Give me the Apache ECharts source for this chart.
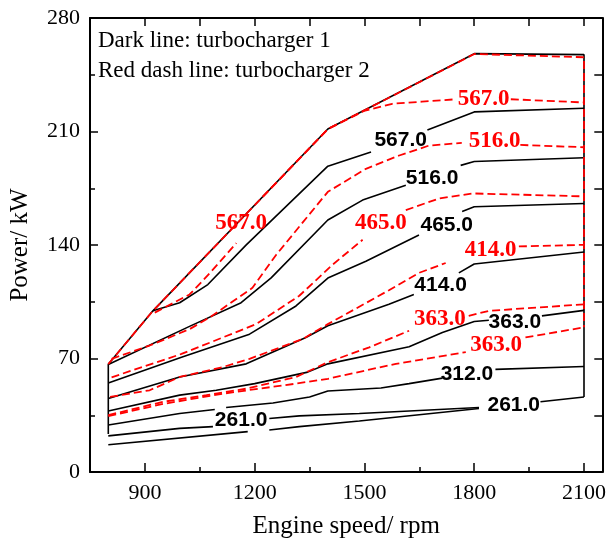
<!DOCTYPE html>
<html>
<head>
<meta charset="utf-8">
<script src="https://cdn.jsdelivr.net/npm/echarts@6/dist/echarts.min.js"></script>
<style>
  html, body { margin: 0; padding: 0; background: #fff; }
  #chart { width: 609px; height: 544px; }
</style>
</head>
<body>
<div id="chart"></div>
<script>
// Engine speed (rpm) / power (kW) contour map of two turbochargers.
// Each contour is a list of [rpm, kW] points; null marks a break where a label sits.

// Operating envelope
const envelope1 = [[800, 23.5], [800, 66.5], [922, 99.4], [1400, 211.5], [1800, 258], [2100, 257.4], [2100, 46.3]];
const envelope2 = [[800, 66.5], [922, 99.4], [1400, 211.5], [1800, 257.8], [2100, 255.8], [2100, 89.2]];

// Turbocharger 1 (solid black)
const t1_567 = [[922, 99.4], [995, 104.4], [1072, 115.6], [1177, 140.1], [1400, 188.6], [1518, 197.3], null, [1672, 210.9], [1800, 222.1], [2100, 224.3]];
const t1_516 = [[800, 66.3], [1022, 89.8], [1163, 104.4], [1245, 119.7], [1400, 155.4], [1495, 167.7], [1613, 176.8], null, [1763, 189.1], [1800, 191.5], [2100, 193.8]];
const t1_465 = [[800, 54.9], [1000, 70.8], [1186, 85], [1313, 102.4], [1400, 119.6], [1504, 130], [1649, 146.2], null, [1767, 160.6], [1800, 163.6], [2100, 165.6]];
const t1_414 = [[800, 45.3], [995, 58.6], [1177, 66.7], [1340, 83], [1400, 90.2], [1567, 103.4], [1635, 109.5], null, [1758, 122.8], [1800, 128.3], [2100, 135.7]];
const t1_363 = [[800, 37.6], [995, 47.4], [1095, 50.4], [1200, 54.5], [1345, 61.6], [1400, 66.7], [1622, 77.3], [1713, 86.1], [1800, 92.8], [1840, 93.6], null, [1985, 96.3], [2100, 99.7]];
const t1_312 = [[800, 29], [995, 36.1], [1091, 38.5], null, [1122, 39.8], [1250, 42.6], [1350, 46.3], [1400, 50], [1545, 51.8], [1622, 54.5], [1713, 57.9], null, [1858, 63.3], [2100, 65.1]];
const t1_261 = [[800, 22.3], [995, 26.9], [1086, 28], null, [1240, 33], [1322, 34.6], [1486, 36.1], [1813, 39.8], null, [1981, 43.3], [2100, 46.3]];
const t1_261b = [[800, 16.8], [1181, 24.9], null, [1240, 25.9], [1322, 28], [1486, 31.5], [1813, 39.2]];

// Turbocharger 2 (red dashed)
const t2_567 = [[927, 98.3], [1022, 109.5], [1058, 117.9], [1104, 129.4], [1150, 141.2], null, [1222, 169.7], [1400, 211.5], [1499, 222.7], [1576, 227.1], [1657, 228.4], [1750, 229.9], null, [1900, 229.9], [2100, 227.9]];
const t2_516 = [[809, 69.8], [913, 78], [1022, 88.1], [1077, 95.3], [1194, 113.6], [1259, 134], [1400, 172.8], [1504, 187], [1595, 195.2], [1676, 201.3], [1766, 203], null, [1926, 201.7], [2100, 200.3]];
const t2_465 = [[809, 58.4], [1000, 72.8], [1204, 91.2], [1322, 108.7], [1413, 127.9], [1495, 143.2], null, [1613, 161.5], [1704, 168.7], [1795, 171.8], [2100, 170]];
const t2_414 = [[805, 46.3], [913, 50.4], [995, 58.6], [1113, 64.7], [1186, 69.8], [1331, 82], [1400, 91.2], [1567, 112.1], [1649, 122.8], [1722, 128.9], null, [1922, 139.1], [2100, 140.1]];
const t2_363a = [[800, 35.1], [950, 43.3], [1068, 47.4], [1177, 51.4], [1313, 58.6], [1400, 67.7], [1513, 76.9], [1622, 87.1], null, [1785, 96.3], [1840, 99.4], [2100, 103.4]];
const t2_363b = [[800, 34.4], [950, 42], [1113, 48.3], [1313, 54.5], [1400, 57.5], [1586, 66.7], [1777, 73.9], null, [1940, 83], [2100, 89.2]];

// Contour labels: text and anchor position [rpm, kW]
const labelText1 = ['567.0', '516.0', '465.0', '414.0', '363.0', '312.0', '261.0', '261.0'];
const labelPos1 = [[1599, 204.5], [1685, 180.9], [1725, 152.4], [1708, 115.5], [1911, 92.2], [1780, 60.6], [1908, 41.4], [1163, 32.1]];
const labelText2 = ['567.0', '567.0', '516.0', '465.0', '414.0', '363.0', '363.0'];
const labelPos2 = [[1826, 229.9], [1163, 153.4], [1856, 203.9], [1545, 153.4], [1845, 137.1], [1706, 94.2], [1860, 78]];

// Axis ticks
const xMajor = [900, 1200, 1500, 1800, 2100];
const xMinor = [1050, 1350, 1650, 1950];
const yMajor = [0, 70, 140, 210, 280];
const yMinor = [35, 105, 175, 245];

const SERIF = '"Liberation Serif", "Times New Roman", serif';
const SANS = '"Liberation Sans", Arial, sans-serif';

function splitSegments(points) {
  const segs = [];
  let cur = [];
  points.forEach(p => {
    if (p === null) { if (cur.length) segs.push(cur); cur = []; }
    else cur.push(p);
  });
  if (cur.length) segs.push(cur);
  return segs;
}

function contourSeries(points, dashed) {
  return splitSegments(points).map(seg => ({
    type: 'line',
    data: seg,
    symbol: 'none',
    silent: true,
    clip: false,
    z: dashed ? 4 : 3,
    lineStyle: {
      color: dashed ? '#ff0000' : '#000000',
      width: dashed ? 1.8 : 1.6,
      type: dashed ? [8, 4] : 'solid',
      cap: 'butt'
    }
  }));
}

const series = [];
[envelope1, t1_567, t1_516, t1_465, t1_414, t1_363, t1_312, t1_261, t1_261b]
  .forEach(c => series.push(...contourSeries(c, false)));
[envelope2, t2_567, t2_516, t2_465, t2_414, t2_363a, t2_363b]
  .forEach(c => series.push(...contourSeries(c, true)));

function labelSeries(texts, positions, font, weight, size, color) {
  return {
    type: 'scatter',
    symbolSize: 0,
    silent: true,
    z: 6,
    itemStyle: { opacity: 1, color: color },
    data: texts.map((t, i) => ({ name: t, value: positions[i] })),
    label: {
      show: true, position: 'inside', formatter: '{b}', opacity: 1,
      fontFamily: font, fontWeight: weight, fontSize: size, color: color,
      textBorderWidth: 0, textBorderColor: 'transparent', textShadowBlur: 0
    }
  };
}
series.push(labelSeries(labelText1, labelPos1, SANS, 'bold', 21, '#000000'));
series.push(labelSeries(labelText2, labelPos2, SERIF, 'bold', 23, '#ff0000'));

const frameLine = { show: true, onZero: false, lineStyle: { color: '#000', width: 2 } };
const tickStyle = { color: '#000', width: 1.5 };
const fmt = v => String(v);

const chart = echarts.init(document.getElementById('chart'), null, { renderer: 'canvas' });
chart.setOption({
  animation: false,
  backgroundColor: '#fff',
  grid: { left: 90, right: 4, top: 18, bottom: 68, containLabel: false },
  xAxis: [
    {
      type: 'value', position: 'bottom', min: 750, max: 2150, interval: 150,
      axisLine: frameLine,
      axisTick: { inside: true, length: 9, customValues: xMajor, lineStyle: tickStyle },
      axisLabel: { customValues: xMajor, formatter: fmt, fontFamily: SERIF, fontSize: 22, color: '#000', margin: 10 },
      splitLine: { show: false },
      name: 'Engine speed/ rpm', nameLocation: 'middle', nameGap: 42,
      nameTextStyle: { fontFamily: SERIF, fontSize: 25, color: '#000' }
    },
    {
      type: 'value', position: 'bottom', min: 750, max: 2150, interval: 150,
      axisLine: { show: false, onZero: false },
      axisTick: { inside: true, length: 5, customValues: xMinor, lineStyle: tickStyle },
      axisLabel: { show: false },
      splitLine: { show: false }
    },
    {
      type: 'value', position: 'top', min: 750, max: 2150, interval: 150,
      axisLine: frameLine,
      axisTick: { inside: true, length: 8, lineStyle: tickStyle },
      axisLabel: { show: false },
      splitLine: { show: false }
    }
  ],
  yAxis: [
    {
      type: 'value', position: 'left', min: 0, max: 280, interval: 35,
      axisLine: frameLine,
      axisTick: { inside: true, length: 8, customValues: yMajor, lineStyle: tickStyle },
      axisLabel: { customValues: yMajor, formatter: fmt, fontFamily: SERIF, fontSize: 22, color: '#000', margin: 10 },
      splitLine: { show: false },
      name: 'Power/ kW', nameLocation: 'middle', nameGap: 57, nameRotate: 90,
      nameTextStyle: { fontFamily: SERIF, fontSize: 25, color: '#000' }
    },
    {
      type: 'value', position: 'left', min: 0, max: 280, interval: 35,
      axisLine: { show: false, onZero: false },
      axisTick: { inside: true, length: 5, customValues: yMinor, lineStyle: tickStyle },
      axisLabel: { show: false },
      splitLine: { show: false }
    },
    {
      type: 'value', position: 'right', min: 0, max: 280, interval: 35,
      axisLine: frameLine,
      axisTick: { inside: true, length: 8, lineStyle: tickStyle },
      axisLabel: { show: false },
      splitLine: { show: false }
    }
  ],
  graphic: [
    { type: 'text', left: 98, top: 29, style: { text: 'Dark line: turbocharger 1', font: '23px ' + SERIF, fill: '#000' } },
    { type: 'text', left: 98, top: 59, style: { text: 'Red dash line: turbocharger 2', font: '23px ' + SERIF, fill: '#000' } }
  ],
  series: series
});
</script>
</body>
</html>
